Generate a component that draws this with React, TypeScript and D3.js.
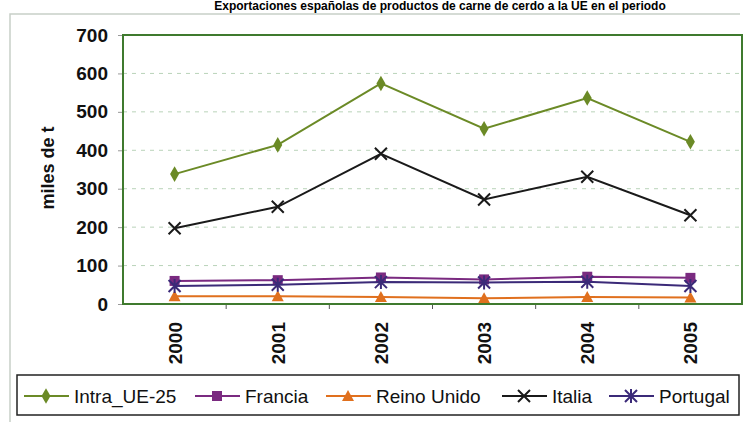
import React, { useEffect, useRef } from 'react';
import * as d3 from 'd3';

const years = ['2000', '2001', '2002', '2003', '2004', '2005'];
const intraUE = [338, 414, 574, 456, 536, 422];
const francia = [60, 62, 69, 64, 71, 68];
const reinoUnido = [20, 20, 18, 15, 18, 17];
const italia = [197, 253, 391, 272, 331, 231];
const portugal = [47, 50, 57, 56, 58, 47];
const yTicks = [0, 100, 200, 300, 400, 500, 600, 700];

const series = [
  { name: 'Intra_UE-25', values: intraUE, color: '#6b8a26', marker: 'diamond' },
  { name: 'Francia', values: francia, color: '#7a2a80', marker: 'square' },
  { name: 'Reino Unido', values: reinoUnido, color: '#e0701e', marker: 'triangle' },
  { name: 'Italia', values: italia, color: '#1a1a1a', marker: 'x' },
  { name: 'Portugal', values: portugal, color: '#3b2a78', marker: 'star' },
];

const W = 748;
const H = 422;

export default function App() {
  const svgRef = useRef<SVGSVGElement>(null);

  useEffect(() => {
    document.body.style.margin = '0';
    if (!svgRef.current) return;
    const svg = d3.select(svgRef.current);
    svg.selectAll('*').remove();

    const plot = { left: 123, right: 742, top: 35, bottom: 304 };
    const font = '"Liberation Sans", Arial, sans-serif';

    svg.append('rect').attr('width', W).attr('height', H).attr('fill', 'white');

    // title strip above the frame
    svg.append('text')
      .attr('x', 440).attr('y', 10)
      .attr('text-anchor', 'middle')
      .attr('font-family', font).attr('font-weight', 'bold').attr('font-size', 12)
      .text('Exportaciones españolas de productos de carne de cerdo a la UE en el periodo');

    // outer chart frame
    svg.append('path')
      .attr('d', `M10,${H} L10,14 L740,14`)
      .attr('fill', 'none').attr('stroke', '#c8cfc8').attr('stroke-width', 1.5);

    const x = d3.scaleBand<string>().domain(years).range([plot.left, plot.right]);
    const y = d3.scaleLinear().domain([0, 700]).range([plot.bottom, plot.top]);
    const cx = (d: string) => (x(d) ?? 0) + x.bandwidth() / 2;

    // gridlines
    svg.append('g')
      .selectAll('line')
      .data(yTicks.filter(t => t > 0 && t < 700))
      .join('line')
      .attr('x1', plot.left).attr('x2', plot.right)
      .attr('y1', d => y(d)).attr('y2', d => y(d))
      .attr('stroke', '#b9d3b9').attr('stroke-width', 1)
      .attr('stroke-dasharray', '4,5');

    // y axis labels + ticks
    const yAxis = svg.append('g')
      .attr('transform', `translate(${plot.left},0)`)
      .call(d3.axisLeft(y).tickValues(yTicks).tickSize(5).tickPadding(10));
    yAxis.select('.domain').remove();
    yAxis.selectAll('line').attr('stroke', '#999');
    yAxis.selectAll('text')
      .attr('font-family', font).attr('font-weight', 'bold').attr('font-size', 19)
      .attr('fill', '#111');

    // x axis ticks at band edges
    svg.append('g')
      .selectAll('line')
      .data(years.slice(1))
      .join('line')
      .attr('x1', d => x(d) ?? 0).attr('x2', d => x(d) ?? 0)
      .attr('y1', plot.bottom).attr('y2', plot.bottom + 5)
      .attr('stroke', '#555');

    svg.append('g')
      .selectAll('text')
      .data(years)
      .join('text')
      .attr('transform', d => `translate(${cx(d) + 7},${plot.bottom + 18}) rotate(-90)`)
      .attr('text-anchor', 'end')
      .attr('font-family', font).attr('font-weight', 'bold').attr('font-size', 19)
      .attr('fill', '#111')
      .text(d => d);

    // y title
    svg.append('text')
      .attr('transform', `translate(54,168) rotate(-90)`)
      .attr('text-anchor', 'middle')
      .attr('font-family', font).attr('font-weight', 'bold').attr('font-size', 18)
      .attr('fill', '#111')
      .text('miles de t');

    const drawMarker = (g: any, kind: string, color: string, px: number, py: number) => {
      if (kind === 'diamond') {
        g.append('path').attr('d', d3.symbol(d3.symbolDiamond, 70)())
          .attr('transform', `translate(${px},${py})`).attr('fill', color);
      } else if (kind === 'square') {
        g.append('rect').attr('x', px - 5).attr('y', py - 5).attr('width', 10).attr('height', 10)
          .attr('fill', color);
      } else if (kind === 'triangle') {
        g.append('path').attr('d', `M${px},${py - 6} L${px + 6},${py + 5} L${px - 6},${py + 5} Z`)
          .attr('fill', color);
      } else if (kind === 'x') {
        g.append('path').attr('d', `M${px - 6},${py - 6} L${px + 6},${py + 6} M${px - 6},${py + 6} L${px + 6},${py - 6}`)
          .attr('stroke', color).attr('stroke-width', 2);
      } else if (kind === 'star') {
        g.append('path').attr('d', `M${px - 6},${py - 6} L${px + 6},${py + 6} M${px - 6},${py + 6} L${px + 6},${py - 6} M${px},${py - 7} L${px},${py + 7}`)
          .attr('stroke', color).attr('stroke-width', 2);
      }
    };

    // series
    const line = d3.line<number>()
      .x((_, i) => cx(years[i]))
      .y(d => y(d));

    series.forEach(s => {
      const g = svg.append('g');
      g.append('path')
        .datum(s.values)
        .attr('fill', 'none')
        .attr('stroke', s.color)
        .attr('stroke-width', 2)
        .attr('d', line);
      s.values.forEach((v, i) => drawMarker(g, s.marker, s.color, cx(years[i]), y(v)));
    });

    // plot frame
    svg.append('rect')
      .attr('x', plot.left).attr('y', plot.top)
      .attr('width', plot.right - plot.left).attr('height', plot.bottom - plot.top)
      .attr('fill', 'none').attr('stroke', '#3f7a2e').attr('stroke-width', 2);

    // legend
    const legend = svg.append('g');
    legend.append('rect')
      .attr('x', 17).attr('y', 375).attr('width', 722).attr('height', 40)
      .attr('fill', 'white').attr('stroke', '#222').attr('stroke-width', 1.5);

    const legendX = [24, 195, 326, 502, 609];
    series.forEach((s, i) => {
      const lx = legendX[i];
      const ly = 396;
      const g = legend.append('g');
      g.append('line').attr('x1', lx).attr('x2', lx + 45).attr('y1', ly).attr('y2', ly)
        .attr('stroke', s.color).attr('stroke-width', 2);
      drawMarker(g, s.marker, s.color, lx + 22, ly);
      g.append('text')
        .attr('x', lx + 50).attr('y', ly + 7)
        .attr('font-family', font).attr('font-size', 19)
        .attr('fill', '#111')
        .text(s.name);
    });
  }, []);

  return (
    <div style={{ width: W, height: H }}>
      <svg ref={svgRef} width={W} height={H} style={{ display: 'block' }} />
    </div>
  );
}
